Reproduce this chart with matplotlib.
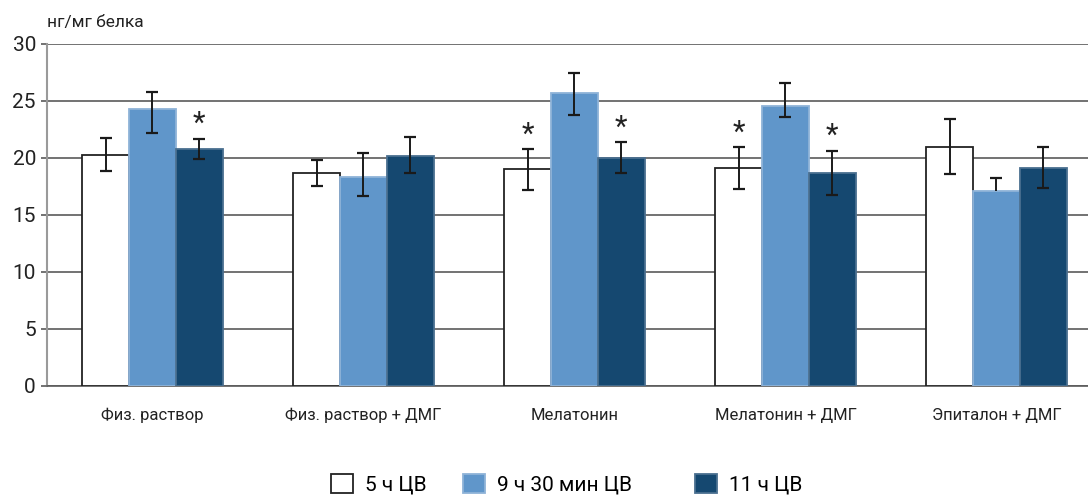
import numpy as np
import matplotlib.pyplot as plt

plt.rcParams['font.family'] = ['Roboto', 'DejaVu Sans']

# Группы и серии
groups = ['Физ. раствор', 'Физ. раствор + ДМГ', 'Мелатонин',
          'Мелатонин + ДМГ', 'Эпиталон + ДМГ']
series = ['5 ч ЦВ', '9 ч 30 мин ЦВ', '11 ч ЦВ']

vals_5h = [20.3, 18.65, 19.0, 19.1, 21.0]
vals_9h = [24.3, 18.3, 25.7, 24.6, 17.1]
vals_11h = [20.8, 20.2, 20.0, 18.65, 19.15]

# ошибки: нижняя / верхняя
lo_5h = [1.45, 1.15, 1.8, 1.85, 2.4]
hi_5h = [1.45, 1.2, 1.8, 1.85, 2.4]
lo_9h = [2.1, 1.65, 1.9, 1.05, 0.0]
hi_9h = [1.5, 2.15, 1.75, 1.95, 1.1]
lo_11h = [0.85, 1.55, 1.35, 1.9, 1.8]
hi_11h = [0.9, 1.65, 1.4, 2.0, 1.85]

# звёздочки: достоверные отличия
stars_5h = [False, False, True, True, False]
stars_9h = [False, False, False, False, False]
stars_11h = [True, False, True, True, False]

colors = ['white', '#6096ca', '#154870']
edges = ['#222222', '#8fb3d8', '#4a6f90']

fig = plt.figure(figsize=(10.88, 4.99), dpi=100)
ax = fig.add_axes([0.0432, 0.2265, 0.9568, 0.6854])

x = np.arange(len(groups))
w = 0.222
data = [(vals_5h, lo_5h, hi_5h, stars_5h),
        (vals_9h, lo_9h, hi_9h, stars_9h),
        (vals_11h, lo_11h, hi_11h, stars_11h)]

bars = []
for i, (v, lo, hi, st) in enumerate(data):
    xs = x + (i - 1) * w
    v = np.array(v)
    lo = np.array(lo)
    hi = np.array(hi)
    b = ax.bar(xs, v, width=w, color=colors[i], edgecolor=edges[i],
               linewidth=1.3, label=series[i], zorder=3)
    bars.append(b)
    ax.vlines(xs, v - lo, v + hi, color='#1a1a1a', linewidth=1.4, zorder=4)
    ax.plot(xs, v + hi, ls='none', marker='_', ms=8, mew=1.6,
            color='#1a1a1a', zorder=4)
    m = lo > 0
    ax.plot(xs[m], (v - lo)[m], ls='none', marker='_', ms=8, mew=1.6,
            color='#1a1a1a', zorder=4)
    for xx, top, s in zip(xs, v + hi, st):
        if s:
            ax.text(xx, top + 0.05, '*', ha='center', va='bottom',
                    fontsize=21, color='#222222', zorder=5)

ax.set_xlim(-0.5, 4.434)
ax.set_ylim(0, 30)
ax.set_yticks(range(0, 31, 5))
ax.yaxis.grid(True, color='#5a5a5a', linewidth=1.2, zorder=0)
ax.set_axisbelow(True)
for s in ['top', 'right']:
    ax.spines[s].set_visible(False)
ax.spines['left'].set_color('#9a9a9a')
ax.spines['left'].set_linewidth(1.5)
ax.spines['bottom'].set_color('#5a5a5a')
ax.spines['bottom'].set_linewidth(1.2)
ax.tick_params(axis='y', length=4, width=1.2, color='#5a5a5a',
               labelsize=15, labelcolor='#222222', pad=4)
ax.set_xticks(x)
ax.set_xticklabels(groups, fontsize=12, color='#222222')
ax.tick_params(axis='x', length=0, pad=16)

fig.text(0.0432, 0.955, 'нг/мг белка', fontsize=12.5, color='#222222',
         ha='left', va='center')

# легенда: три отдельных элемента в ряд
leg_x = [331 / 1088, 463 / 1088, 695 / 1088]
for b, name, lx in zip(bars, series, leg_x):
    lg = fig.legend([b], [name], loc='center left', bbox_to_anchor=(lx, 0.03),
                    frameon=False, fontsize=15, handlelength=1.05,
                    handleheight=1.05, handletextpad=0.6, borderpad=0,
                    borderaxespad=0)

fig.savefig('out.png', dpi=100)
